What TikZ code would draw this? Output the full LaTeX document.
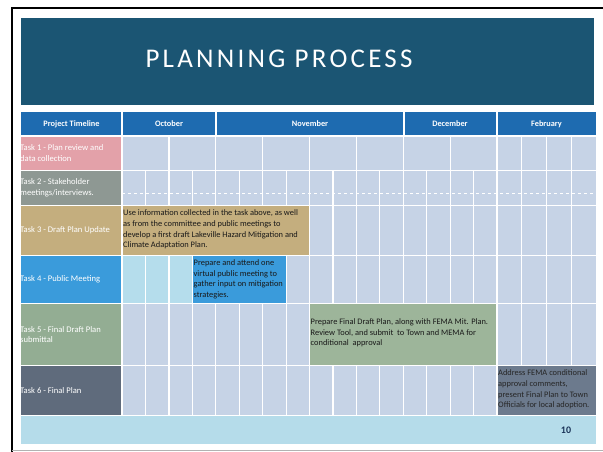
\documentclass[tikz,border=0pt]{standalone}
\usepackage{fontspec}
\setmainfont{Carlito}
\newfontfamily\titlefont[LetterSpace=12]{Carlito}
\definecolor{banner}{HTML}{1B5573}
\definecolor{hdr}{HTML}{1E6BB0}
\definecolor{gridc}{HTML}{C6D3E6}
\definecolor{pinkc}{HTML}{E3A1A9}
\definecolor{greyc}{HTML}{8E9893}
\definecolor{tanc}{HTML}{C4AE7E}
\definecolor{bluec}{HTML}{3A9BDB}
\definecolor{greenc}{HTML}{93AD93}
\definecolor{greenbox}{HTML}{9DB59A}
\definecolor{slatec}{HTML}{5F6B7C}
\definecolor{slatebox}{HTML}{6C7A8D}
\definecolor{footc}{HTML}{B5DCEA}
\definecolor{lightc}{HTML}{B5DDEC}
\definecolor{navy}{HTML}{1A3358}
\begin{document}
\begin{tikzpicture}[x=1pt,y=-1pt,
  cell/.style={anchor=north west, inner sep=0pt, outer sep=0pt},
  lab/.style={anchor=west, inner sep=0pt, text=white, font=\fontsize{8.6}{10.6}\selectfont, align=left},
  hd/.style={text=white, font=\bfseries\fontsize{8.3}{9}\selectfont, inner sep=0pt},
  task/.style={anchor=west, inner sep=0pt, font=\fontsize{8.4}{10.6}\selectfont, align=left, text=black!90},
  wl/.style={white, line width=1.2pt},
]
\useasboundingbox (0,0) rectangle (603,452);
\fill[white] (0,0) rectangle (603,452);
% frame
\draw[black, line width=1.6pt] (603,8) -- (12,8) -- (12,452);
\draw[gray!60, line width=0.8pt] (12,450) -- (603,450);
% banner
\node[cell, fill=banner, minimum width=573pt, minimum height=87pt] (banner) at (21,18) {};
\node[anchor=base, text=white, font=\titlefont\fontsize{27}{30}\selectfont, inner sep=0pt] (title) at (279,68) {PLANNING PROCESS};
% header row
\node[cell, fill=hdr, minimum width=575pt, minimum height=23pt] (header) at (21,112) {};
\node[hd] (h0) at (71.5,124) {Project Timeline};
\node[hd] (h1) at (169,124) {October};
\node[hd] (h2) at (310,124) {November};
\node[hd] (h3) at (450,124) {December};
\node[hd] (h4) at (546.5,124) {February};
\foreach \x in {122,216,404,497} \draw[wl] (\x,112) -- (\x,135);
% grid background
\fill[gridc] (122,136) rectangle (596,415.5);
\fill[lightc] (122,255.5) rectangle (192.3,303.5);
% left labels
\node[cell, fill=pinkc, minimum width=101pt, minimum height=34.5pt] (l1) at (21,136) {};
\node[lab] (t1) at (20,153.3) {Task 1 - Plan review and\\data collection};
\node[cell, fill=greyc, minimum width=101pt, minimum height=35pt] (l2) at (21,170.5) {};
\node[lab] (t2) at (20,188) {Task 2 - Stakeholder\\meetings/interviews.};
\node[cell, fill=tanc, minimum width=101pt, minimum height=50pt] (l3) at (21,205.5) {};
\node[lab] (t3) at (20,230.5) {Task 3 - Draft Plan Update};
\node[cell, fill=bluec, minimum width=101pt, minimum height=48pt] (l4) at (21,255.5) {};
\node[lab] (t4) at (20,279.5) {Task 4 - Public Meeting};
\node[cell, fill=greenc, minimum width=101pt, minimum height=62pt] (l5) at (21,303.5) {};
\node[lab] (t5) at (20,334.5) {Task 5 - Final Draft Plan\\submittal};
\node[cell, fill=slatec, minimum width=101pt, minimum height=50pt] (l6) at (21,365.5) {};
\node[lab] (t6) at (20,390.5) {Task 6 - Final Plan};
% task boxes
\node[cell, fill=tanc, minimum width=187.5pt, minimum height=50pt] (b3) at (122,205.5) {};
\node[task] (x3) at (123,229.5)
 {Use information collected in the task above, as well\\as from the committee and public meetings to\\develop a first draft Lakeville Hazard Mitigation and\\Climate Adaptation Plan.};
\node[cell, fill=bluec, minimum width=93.8pt, minimum height=48pt] (b4) at (192.3,255.5) {};
\node[task] (x4) at (193.5,279.2)
 {Prepare and attend one\\virtual public meeting to\\gather input on mitigation\\strategies.};
\node[cell, fill=greenbox, minimum width=187.5pt, minimum height=62pt] (b5) at (309.5,303.5) {};
\node[task] (x5) at (310.5,333)
 {Prepare Final Draft Plan, along with FEMA Mit. Plan.\\Review Tool, and submit\ \ to Town and MEMA for\\conditional\ \ approval};
\node[cell, fill=slatebox, minimum width=99pt, minimum height=50pt] (b6) at (497,365.5) {};
\node[task, text=black!85] (x6) at (498,389.5)
 {Address FEMA conditional\\approval comments,\\present Final Plan to Town\\Officials for local adoption.};
% footer
\node[cell, fill=footc, minimum width=575pt, minimum height=28.5pt] (footer) at (21,415.5) {};
\node[text=navy, font=\bfseries\fontsize{10}{12}\selectfont, inner sep=0pt] (pg) at (566,430) {10};
% white grid lines
\foreach \y in {136,170.5,205.5,255.5,303.5,365.5,415.5} \draw[wl] (21,\y) -- (596,\y);
\draw[wl] (122,136) -- (122,415.5);
\draw[white, line width=0.9pt, dashed] (122,193) -- (596,193);
% row 1
\foreach \x in {168.9,215.75,262.6,309.5,356.4,403.25,450.1,497,521.75,546.5,571.25}
  \draw[wl] (\x,136) -- (\x,170.5);
% row 2
\foreach \x in {145.4,168.9,192.3,215.75,239.2,262.6,286.1,309.5,332.9,356.4,379.8,403.25,426.7,450.1,473.6,497,521.75,546.5,571.25}
  \draw[wl] (\x,170.5) -- (\x,205.5);
% row 3
\foreach \x in {309.5,332.9,356.4,379.8,403.25,426.7,450.1,473.6,497,521.75,546.5,571.25}
  \draw[wl] (\x,205.5) -- (\x,255.5);
% row 4
\foreach \x in {145.4,168.9,192.3,286.1,309.5,332.9,356.4,379.8,403.25,426.7,450.1,473.6,497,521.75,546.5,571.25}
  \draw[wl] (\x,255.5) -- (\x,303.5);
% row 5
\foreach \x in {145.4,168.9,192.3,215.75,239.2,262.6,286.1,309.5,497,521.75,546.5,571.25}
  \draw[wl] (\x,303.5) -- (\x,365.5);
% row 6
\foreach \x in {145.4,168.9,192.3,215.75,239.2,262.6,286.1,309.5,332.9,356.4,379.8,403.25,426.7,450.1,473.6,497}
  \draw[wl] (\x,365.5) -- (\x,415.5);
\end{tikzpicture}
\end{document}
